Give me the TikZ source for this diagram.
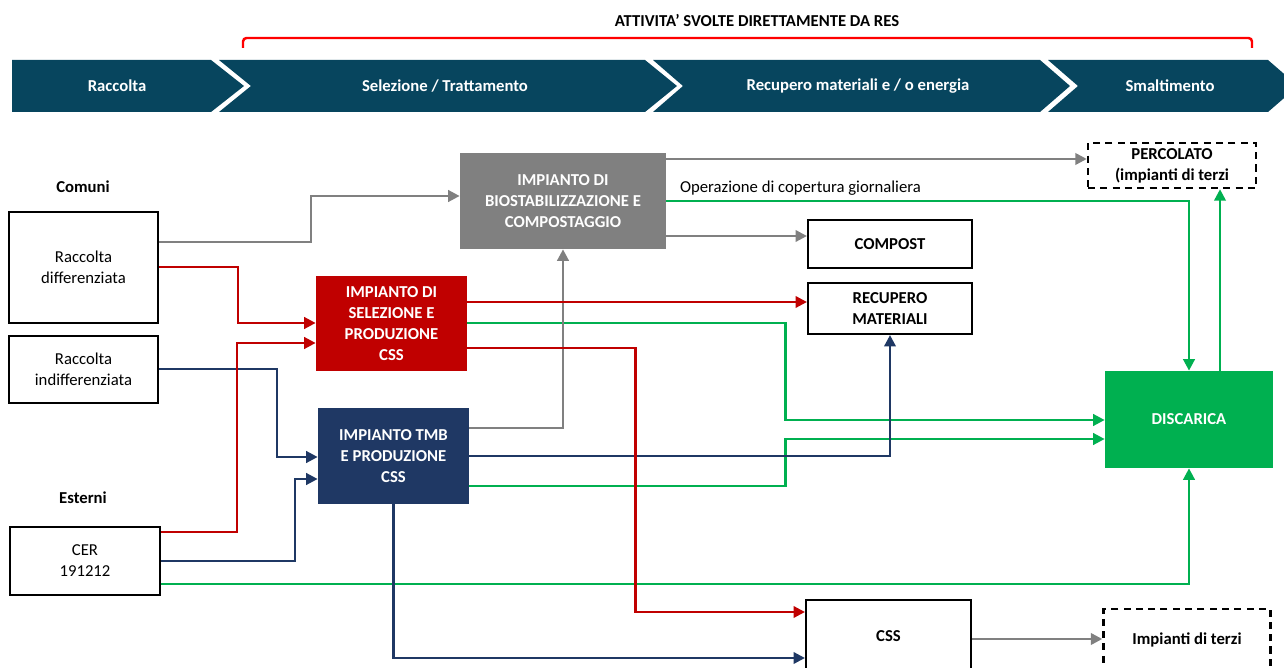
\documentclass[tikz,border=0pt]{standalone}
\usepackage{fontspec}
\setmainfont{Carlito}
\usetikzlibrary{arrows.meta, positioning}

\definecolor{bandblue}{HTML}{07455E}
\definecolor{plantgray}{HTML}{808080}
\definecolor{plantred}{HTML}{C00000}
\definecolor{plantnavy}{HTML}{1F3864}
\definecolor{plantgreen}{HTML}{00B050}
\definecolor{bracketred}{HTML}{FF0000}

\newdimen\pxu
\pxu=0.02cm

\tikzset{
  txt/.style={font=\fontsize{9.5}{12}\selectfont, align=center, inner sep=1pt},
  bold/.style={txt, font=\fontsize{9.5}{12}\selectfont\bfseries},
  box/.style={txt, draw=black, line width=1.2pt, fill=white},
  boldbox/.style={box, font=\fontsize{9.5}{12}\selectfont\bfseries},
  dashbox/.style={boldbox, dash pattern=on 4pt off 3pt, line width=1.4pt},
  plant/.style={bold, text=white},
  band/.style={fill=bandblue},
  bandlabel/.style={bold, text=white},
  flow/.style={line width=1.4pt, -{Triangle[length=6.5pt,width=6.5pt]}},
  gryflow/.style={flow, plantgray},
  redflow/.style={flow, plantred},
  grnflow/.style={flow, plantgreen},
  navflow/.style={flow, plantnavy}
}

\begin{document}
\begin{tikzpicture}[x=0.02cm, y=-0.02cm]
\useasboundingbox (0,0) rectangle (1284,668);
\clip (0,0) rectangle (1284,668);

% titolo e parentesi
\node[bold] (titolo) at (757,20) {ATTIVITA’ SVOLTE DIRETTAMENTE DA RES};
\draw [bracketred, line width=1.4pt, rounded corners=2pt] (243,48) -- (243,38) -- (1252,38) -- (1252,48);

% fasce
\fill [band] (12,60) -- (211,60) -- (244,86) -- (211,112) -- (12,112) -- cycle;
\fill [band] (219,60) -- (645,60) -- (677,86) -- (645,112) -- (219,112) -- (251,86) -- cycle;
\fill [band] (653,60) -- (1040,60) -- (1070,86) -- (1040,112) -- (653,112) -- (683,86) -- cycle;
\fill [band] (1048,60) -- (1268,60) -- (1298,86) -- (1268,112) -- (1048,112) -- (1078,86) -- cycle;
\node[bandlabel] (fraccolta) at (117,86) {Raccolta};
\node[bandlabel] (fselezione) at (445,86) {Selezione / Trattamento};
\node[bandlabel] (frecupero) at (858,86) {Recupero materiali e / o energia};
\node[bandlabel] (fsmalt) at (1170,86) {Smaltimento};

% origini
\node[bold] (comuni) at (83,187) {Comuni};
\node[box, minimum width=149\pxu, minimum height=111\pxu] (rd) at (83.5,267.5) {Raccolta\\differenziata};
\node[box, minimum width=149\pxu, minimum height=67\pxu] (ri) at (83.5,369.5) {Raccolta\\indifferenziata};
\node[bold] (esterni) at (83,498) {Esterni};
\node[box, minimum width=150\pxu, minimum height=68\pxu] (cer) at (85,561) {CER\\191212};

% impianti
\node[plant, fill=plantgray, minimum width=206\pxu, minimum height=96\pxu] (bio) at (563,201) {IMPIANTO DI\\BIOSTABILIZZAZIONE E\\COMPOSTAGGIO};
\node[plant, fill=plantred, minimum width=151\pxu, minimum height=95\pxu] (sel) at (391.5,323.5) {IMPIANTO DI\\SELEZIONE E\\PRODUZIONE\\CSS};
\node[plant, fill=plantnavy, minimum width=151\pxu, minimum height=96\pxu] (tmb) at (393.5,456) {IMPIANTO TMB\\E PRODUZIONE\\CSS};
\node[plant, fill=plantgreen, minimum width=168\pxu, minimum height=97\pxu] (disc) at (1189,419.5) {DISCARICA};

% destinazioni
\node[boldbox, minimum width=164\pxu, minimum height=48\pxu] (compost) at (890,244) {COMPOST};
\node[boldbox, minimum width=164\pxu, minimum height=51\pxu] (recmat) at (890,308.5) {RECUPERO\\MATERIALI};
\node[dashbox, minimum width=168\pxu, minimum height=45\pxu] (perc) at (1172,165.5) {PERCOLATO\\(impianti di terzi};
\node[boldbox, minimum width=165\pxu, minimum height=72\pxu] (css) at (888.5,636) {CSS};
\node[dashbox, minimum width=167\pxu, minimum height=62\pxu] (terzi) at (1187,640) {Impianti di terzi};
\node[txt, anchor=west] (opcop) at (678,188) {Operazione di copertura giornaliera};

% flussi verdi
\draw [grnflow] (bio.east |- 0,201) -| (disc.north);
\draw [grnflow] (disc.north -| 1220,0) -- (perc.south -| 1220,0);
\draw [grnflow] (sel.east |- 0,323) -- ++(318,0) |- (disc.west |- 0,420);
\draw [grnflow] (tmb.east |- 0,486) -- ++(316,0) |- (disc.west |- 0,439);
\draw [grnflow] (cer.east |- 0,584) -| (disc.south);

% flussi grigi
\draw [gryflow] (rd.east |- 0,242) -- ++(152,0) |- (bio.west |- 0,196);
\draw [gryflow] (bio.east |- 0,159) -- (perc.west |- 0,159);
\draw [gryflow] (bio.east |- 0,236) -- (compost.west |- 0,236);
\draw [gryflow] (tmb.east |- 0,428) -| (bio.south);
\draw [gryflow] (css.east |- 0,639) -- (terzi.west |- 0,639);

% flussi blu
\draw [navflow] (ri.east |- 0,369) -- ++(118,0) |- (tmb.west |- 0,457);
\draw [navflow] (cer.east |- 0,561) -- ++(134,0) |- (tmb.west |- 0,479);
\draw [navflow] (tmb.east |- 0,456) -| (recmat.south);
\draw [navflow] (tmb.south) |- (css.west |- 0,658);

% flussi rossi
\draw [redflow] (rd.east |- 0,267) -- ++(79,0) |- (sel.west |- 0,323);
\draw [redflow] (cer.east |- 0,532) -- ++(76,0) |- (sel.west |- 0,343);
\draw [redflow] (sel.east |- 0,302) -- (recmat.west |- 0,302);
\draw [redflow] (sel.east |- 0,348) -- ++(168,0) |- (css.west |- 0,612);
\end{tikzpicture}
\end{document}
